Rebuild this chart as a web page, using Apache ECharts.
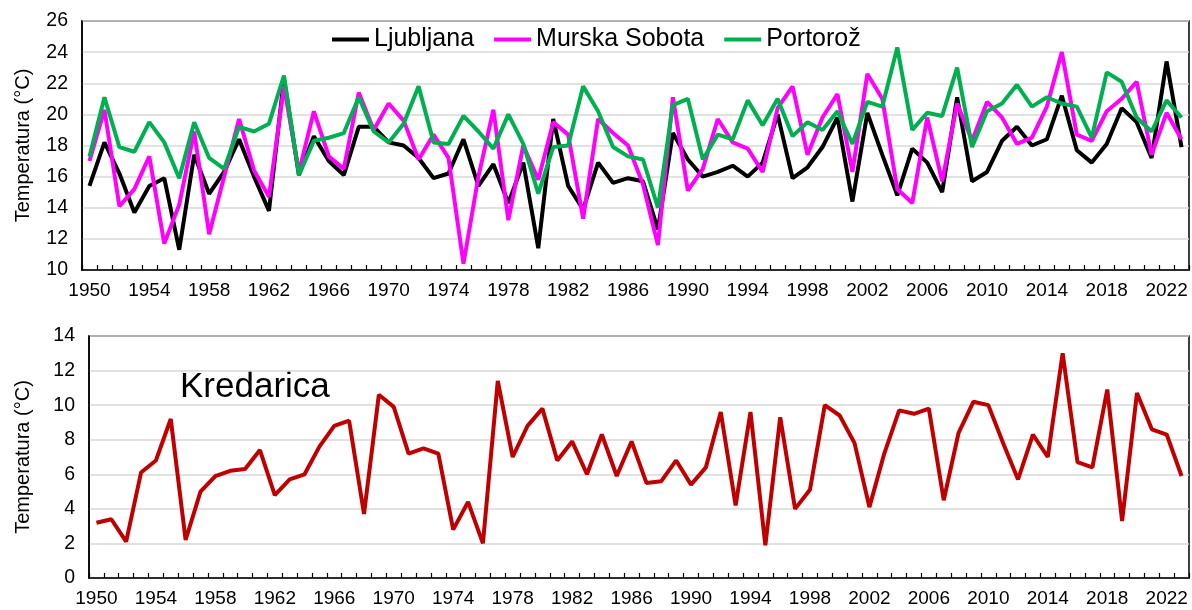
<!DOCTYPE html>
<html>
<head>
<meta charset="utf-8">
<script src="https://cdn.jsdelivr.net/npm/echarts@6/dist/echarts.min.js"></script>
<style>
html,body{margin:0;padding:0;background:#fff;}
#chart{width:1192px;height:610px;}
</style>
</head>
<body>
<div id="chart"></div>
<script>
const years = [];
for (let y = 1950; y <= 2023; y++) years.push(String(y));

const ljubljana = [15.4,18.2,16.2,13.7,15.4,15.9,11.3,17.4,14.9,16.3,
  18.4,16.0,13.8,22.3,16.1,18.6,17.0,16.1,19.2,19.2,
  18.2,18.0,17.2,15.9,16.2,18.4,15.4,16.8,14.3,16.9,
  11.4,19.7,15.4,13.9,16.9,15.6,15.9,15.7,12.6,18.8,
  17.1,16.0,16.3,16.7,16.0,16.9,20.0,15.9,16.6,17.9,
  19.8,14.4,20.1,17.4,14.8,17.8,16.9,15.0,21.1,15.7,
  16.3,18.3,19.2,18.0,18.4,21.2,17.7,16.9,18.1,20.4,
  19.5,17.2,23.4,17.9];

const murskaSobota = [17.0,20.3,14.1,15.2,17.3,11.7,14.2,18.9,12.3,16.0,
  19.7,16.4,14.7,21.8,16.3,20.2,17.3,16.5,21.4,19.0,
  20.7,19.6,17.1,18.7,17.2,10.4,16.0,20.3,13.2,18.0,
  15.8,19.5,18.7,13.3,19.7,18.8,18.0,15.5,11.6,21.1,
  15.1,16.5,19.7,18.2,17.8,16.3,20.4,21.8,17.4,19.8,
  21.3,16.3,22.6,21.0,15.2,14.3,19.8,15.7,20.7,18.3,
  20.8,19.8,18.1,18.5,20.5,24.0,18.7,18.3,20.2,21.0,
  22.1,17.4,20.1,18.4];

const portoroz = [17.3,21.1,17.9,17.6,19.5,18.2,15.9,19.5,17.2,16.5,
  19.2,18.9,19.4,22.5,16.1,18.3,18.5,18.8,21.1,18.9,
  18.2,19.4,21.8,18.2,18.1,19.9,18.9,17.8,20.0,18.1,
  14.9,17.9,18.0,21.8,20.2,17.9,17.3,17.1,14.0,20.6,
  21.0,17.1,18.7,18.4,20.9,19.3,21.0,18.6,19.5,19.0,
  20.2,18.1,20.8,20.5,24.3,19.0,20.1,19.9,23.0,17.9,
  20.2,20.7,21.9,20.5,21.1,20.7,20.5,18.5,22.7,22.1,
  19.8,18.9,20.9,19.8];

const kredarica = [3.2,3.4,2.1,6.1,6.8,9.2,2.2,5.0,5.9,6.2,
  6.3,7.4,4.8,5.7,6.0,7.6,8.8,9.1,3.7,10.6,
  9.9,7.2,7.5,7.2,2.8,4.4,2.0,11.4,7.0,8.8,
  9.8,6.8,7.9,6.0,8.3,5.9,7.9,5.5,5.6,6.8,
  5.4,6.4,9.6,4.2,9.6,1.9,9.3,4.0,5.1,10.0,
  9.4,7.8,4.1,7.2,9.7,9.5,9.8,4.5,8.4,10.2,
  10.0,7.8,5.7,8.3,7.0,13.0,6.7,6.4,10.9,3.3,
  10.7,8.6,8.3,5.9];

const FONT = "'Liberation Sans', Arial, sans-serif";
const chart = echarts.init(document.getElementById('chart'), null, {renderer: 'canvas'});

function xAxis(gridIndex) {
  return {
    type: 'category', gridIndex: gridIndex, data: years, boundaryGap: true,
    axisLine: {show: true, lineStyle: {color: '#000', width: 1.5}},
    axisTick: {show: true, inside: true, length: 5, interval: 0, alignWithLabel: false, lineStyle: {color: '#000', width: 1.2}},
    axisLabel: {interval: 3, color: '#000', fontFamily: FONT, fontSize: 19, margin: 11},
    splitLine: {show: false}
  };
}
function yAxis(gridIndex, min, max, gap) {
  return {
    type: 'value', gridIndex: gridIndex, min: min, max: max, interval: 2,
    name: 'Temperatura (°C)', nameLocation: 'middle', nameGap: gap, nameRotate: 90,
    nameTextStyle: {color: '#000', fontFamily: FONT, fontSize: 20},
    axisLine: {show: true, lineStyle: {color: '#000', width: 1.5}},
    axisTick: {show: false},
    axisLabel: {color: '#000', fontFamily: FONT, fontSize: 19.5, margin: 14},
    splitLine: {show: true, lineStyle: {color: '#d9d9d9', width: 1.5}}
  };
}
function line(name, data, color, xi) {
  return {
    name: name, type: 'line', data: data, xAxisIndex: xi, yAxisIndex: xi,
    symbol: 'none', showSymbol: false, smooth: false,
    lineStyle: {color: color, width: 4}, itemStyle: {color: color},
    emphasis: {disabled: true}, animation: false
  };
}

chart.setOption({
  animation: false,
  backgroundColor: '#fff',
  grid: [
    {left: 82, right: 3, top: 21, bottom: 340, show: true, borderColor: '#000', borderWidth: 1.5, containLabel: false},
    {left: 89, right: 3, top: 336, bottom: 32, show: true, borderColor: '#000', borderWidth: 1.5, containLabel: false}
  ],
  legend: {
    data: ['Ljubljana', 'Murska Sobota', 'Portorož'],
    icon: 'rect',
    left: 327, top: 22, itemWidth: 37, itemHeight: 4, itemGap: 20,
    textStyle: {color: '#000', fontFamily: FONT, fontSize: 25}
  },
  xAxis: [xAxis(0), xAxis(1)],
  yAxis: [yAxis(0, 10, 26, 49), yAxis(1, 0, 14, 56)],
  graphic: [{
    type: 'text', left: 180, top: 370,
    style: {text: 'Kredarica', fill: '#000', font: "35px 'Liberation Sans', Arial, sans-serif"}
  }],
  series: [
    line('Ljubljana', ljubljana, '#000000', 0),
    line('Murska Sobota', murskaSobota, '#ff00ff', 0),
    line('Portorož', portoroz, '#00b050', 0),
    line('Kredarica', kredarica, '#c00000', 1)
  ]
});
</script>
</body>
</html>
